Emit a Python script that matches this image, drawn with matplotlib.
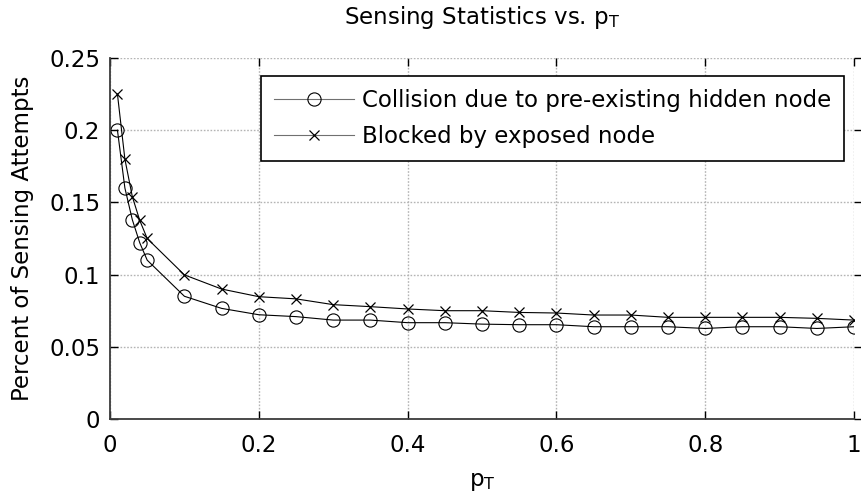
import matplotlib
matplotlib.use("Agg")
import matplotlib.pyplot as plt

# ---- data ----
p_T = [0.01, 0.02, 0.03, 0.04, 0.05, 0.10, 0.15, 0.20, 0.25, 0.30, 0.35, 0.40,
       0.45, 0.50, 0.55, 0.60, 0.65, 0.70, 0.75, 0.80, 0.85, 0.90, 0.95, 1.00]
collision = [0.200, 0.160, 0.138, 0.122, 0.110, 0.085, 0.0766, 0.0722, 0.0709,
             0.0685, 0.0685, 0.0667, 0.0667, 0.0657, 0.0653, 0.0653, 0.0639,
             0.0639, 0.0639, 0.0627, 0.0639, 0.0639, 0.0627, 0.0639]
blocked = [0.225, 0.180, 0.154, 0.1375, 0.125, 0.0998, 0.090, 0.0847, 0.0832,
           0.0792, 0.0778, 0.0762, 0.0750, 0.0750, 0.0738, 0.0734, 0.0720,
           0.0720, 0.0704, 0.0704, 0.0704, 0.0704, 0.0697, 0.0685]
labels = ["Collision due to pre-existing hidden node", "Blocked by exposed node"]
xticks = [0, 0.2, 0.4, 0.6, 0.8, 1]
xticklabels = ["0", "0.2", "0.4", "0.6", "0.8", "1"]
yticks = [0, 0.05, 0.1, 0.15, 0.2, 0.25]
yticklabels = ["0", "0.05", "0.1", "0.15", "0.2", "0.25"]

plt.rcParams['font.family'] = ['DejaVu Sans']
plt.rcParams['mathtext.fontset'] = 'dejavusans'
FS = 16.5

W, H = 861, 498
fig = plt.figure(figsize=(W / 100, H / 100), dpi=100)
ax = fig.add_axes([110 / W, 1 - 419 / H, 744 / W, 361 / H])

ax.plot(p_T, collision, color='black', lw=0.8, marker='o', ms=9.5,
        mfc='none', mec='black', mew=0.8, label=labels[0])
ax.plot(p_T, blocked, color='black', lw=0.8, marker='x', ms=6.5,
        mec='black', mew=0.9, label=labels[1])

ax.set_xlim(0, 1)
ax.set_ylim(0, 0.25)
ax.set_xticks(xticks)
ax.set_xticklabels(xticklabels)
ax.set_yticks(yticks)
ax.set_yticklabels(yticklabels)

ax.grid(True, color='#b4b4b4', linestyle=(0, (1.2, 1.2)), linewidth=1.0)
ax.set_axisbelow(True)

for s in ['top', 'right']:
    ax.spines[s].set_visible(False)
for s in ['left', 'bottom']:
    ax.spines[s].set_color('#3c3c3c')
    ax.spines[s].set_linewidth(1.3)

ax.tick_params(axis='both', which='both', direction='in', length=6, width=1,
               color='black', labelsize=FS, top=True, right=False)
ax.tick_params(axis='x', pad=11)
ax.tick_params(axis='y', pad=7)

sec = ax.secondary_yaxis('right')
sec.set_yticks(yticks)
sec.tick_params(direction='out', length=5, width=1, color='black', labelright=False)
sec.spines['right'].set_visible(False)

ax.set_title(r'Sensing Statistics vs. $\mathregular{p_T}$', fontsize=FS, pad=24.5)
ax.set_xlabel(r'$\mathregular{p_T}$', fontsize=FS, labelpad=9)
ax.set_ylabel('Percent of Sensing Attempts', fontsize=FS, labelpad=11)

leg = ax.legend(loc='upper right', bbox_to_anchor=(844 / W, 1 - 76 / H),
                bbox_transform=fig.transFigure, borderaxespad=0,
                fontsize=FS, frameon=True, fancybox=False, framealpha=1,
                edgecolor='black', handlelength=3.5, handletextpad=0.35,
                borderpad=0.55, labelspacing=0.6)
leg.get_frame().set_linewidth(1.2)
for line in leg.get_lines():
    line.set_color('#707070')
    line.set_markeredgecolor('black')

fig.savefig('out.png', dpi=100)
